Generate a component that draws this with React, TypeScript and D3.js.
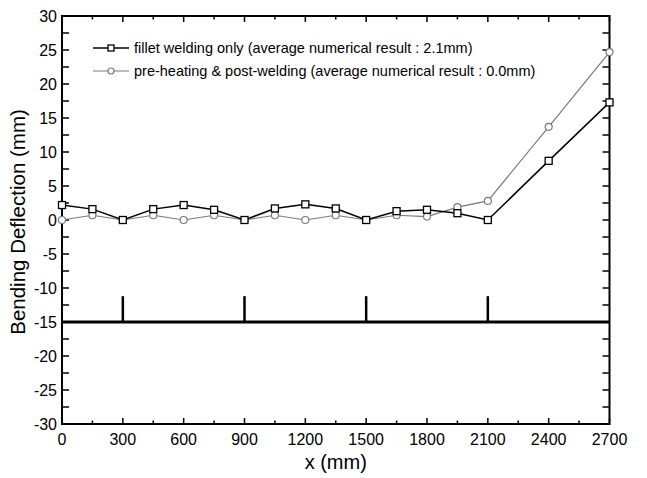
import React, { useEffect, useRef } from "react";
import * as d3 from "d3";

const xValues = [0, 150, 300, 450, 600, 750, 900, 1050, 1200, 1350, 1500, 1650, 1800, 1950, 2100, 2400, 2700];
const filletOnly = [2.2, 1.6, 0, 1.6, 2.2, 1.5, 0, 1.7, 2.3, 1.7, 0, 1.3, 1.5, 1.0, 0, 8.7, 17.3];
const preHeating = [0, 0.7, 0, 0.7, 0, 0.7, 0, 0.7, 0, 0.7, 0, 0.7, 0.5, 1.9, 2.8, 13.7, 24.7];
const supports = [300, 900, 1500, 2100];
const legendLabels = [
  "fillet welding only (average numerical result : 2.1mm)",
  "pre-heating & post-welding (average numerical result : 0.0mm)",
];
const xTicks = d3.range(0, 2701, 300);
const yTicks = d3.range(-30, 31, 5);

export default function App() {
  const ref = useRef<SVGSVGElement>(null);

  useEffect(() => {
    const svg = d3.select(ref.current);
    svg.selectAll("*").remove();
    const font = "'Liberation Sans', Arial, sans-serif";

    const left = 62, right = 609.5, top = 16, bottom = 424;
    const x = d3.scaleLinear().domain([0, 2700]).range([left, right]);
    const y = d3.scaleLinear().domain([-30, 30]).range([bottom, top]);

    const g = svg.append("g");

    // support beam
    g.append("line")
      .attr("x1", x(0)).attr("x2", x(2700))
      .attr("y1", y(-15)).attr("y2", y(-15))
      .attr("stroke", "#000").attr("stroke-width", 3);
    g.selectAll(".sup").data(supports).enter().append("line")
      .attr("x1", d => x(d)).attr("x2", d => x(d))
      .attr("y1", y(-15)).attr("y2", y(-11.2))
      .attr("stroke", "#000").attr("stroke-width", 2.5);

    // frame
    g.append("rect")
      .attr("x", left).attr("y", top)
      .attr("width", right - left).attr("height", bottom - top)
      .attr("fill", "none").attr("stroke", "#000").attr("stroke-width", 2);

    // x ticks (inward, top and bottom)
    const xMinor = d3.range(0, 2701, 150);
    xMinor.forEach(v => {
      const len = v % 300 === 0 ? 6 : 3.5;
      g.append("line").attr("x1", x(v)).attr("x2", x(v)).attr("y1", bottom).attr("y2", bottom - len)
        .attr("stroke", "#000").attr("stroke-width", 1.5);
      g.append("line").attr("x1", x(v)).attr("x2", x(v)).attr("y1", top).attr("y2", top + len)
        .attr("stroke", "#000").attr("stroke-width", 1.5);
    });
    const yMinor = d3.range(-30, 30.1, 2.5);
    yMinor.forEach(v => {
      g.append("line").attr("x1", left).attr("x2", left + 7).attr("y1", y(v)).attr("y2", y(v))
        .attr("stroke", "#000").attr("stroke-width", 1.5);
      g.append("line").attr("x1", right).attr("x2", right - 7).attr("y1", y(v)).attr("y2", y(v))
        .attr("stroke", "#000").attr("stroke-width", 1.5);
    });

    g.selectAll(".xl").data(xTicks).enter().append("text")
      .attr("x", d => x(d)).attr("y", bottom + 21)
      .attr("text-anchor", "middle").attr("font-family", font).attr("font-size", 16)
      .text(d => d);
    g.selectAll(".yl").data(yTicks).enter().append("text")
      .attr("x", left - 5).attr("y", d => y(d) + 5.5)
      .attr("text-anchor", "end").attr("font-family", font).attr("font-size", 16)
      .text(d => d);

    g.append("text").attr("x", (left + right) / 2).attr("y", 469)
      .attr("text-anchor", "middle").attr("font-family", font).attr("font-size", 20)
      .text("x (mm)");
    g.append("text")
      .attr("transform", `translate(25,${(top + bottom) / 2 + 2}) rotate(-90)`)
      .attr("text-anchor", "middle").attr("font-family", font).attr("font-size", 20.5)
      .text("Bending Deflection (mm)");

    const line = d3.line<number>().x((_, i) => x(xValues[i])).y(d => y(d));

    // pre-heating series (grey circles)
    g.append("path").datum(preHeating).attr("d", line)
      .attr("fill", "none").attr("stroke", "#7a7a7a").attr("stroke-width", 1.2);
    g.selectAll(".c").data(preHeating).enter().append("circle")
      .attr("cx", (_, i) => x(xValues[i])).attr("cy", d => y(d)).attr("r", 3.5)
      .attr("fill", "#fff").attr("stroke", "#7a7a7a").attr("stroke-width", 1.2);

    // fillet series (black squares)
    g.append("path").datum(filletOnly).attr("d", line)
      .attr("fill", "none").attr("stroke", "#000").attr("stroke-width", 1.5);
    g.selectAll(".s").data(filletOnly).enter().append("rect")
      .attr("x", (_, i) => x(xValues[i]) - 3.5).attr("y", d => y(d) - 3.5)
      .attr("width", 7).attr("height", 7)
      .attr("fill", "#fff").attr("stroke", "#000").attr("stroke-width", 1.3);

    // legend
    const lg = g.append("g");
    legendLabels.forEach((label, i) => {
      const ly = 48 + i * 23;
      const col = i === 0 ? "#000" : "#7a7a7a";
      lg.append("line").attr("x1", 93).attr("x2", 129).attr("y1", ly).attr("y2", ly)
        .attr("stroke", col).attr("stroke-width", i === 0 ? 1.5 : 1.2);
      if (i === 0) {
        lg.append("rect").attr("x", 111 - 3).attr("y", ly - 3).attr("width", 6).attr("height", 6)
          .attr("fill", "#fff").attr("stroke", col).attr("stroke-width", 1.3);
      } else {
        lg.append("circle").attr("cx", 111).attr("cy", ly).attr("r", 3)
          .attr("fill", "#fff").attr("stroke", col).attr("stroke-width", 1.2);
      }
      lg.append("text").attr("x", 134).attr("y", ly + 5)
        .attr("font-family", font).attr("font-size", 14.5).text(label);
    });
  }, []);

  return (
    <svg
      ref={ref}
      width={647}
      height={478}
      style={{ position: "absolute", left: 0, top: 0, background: "#fff" }}
    />
  );
}
